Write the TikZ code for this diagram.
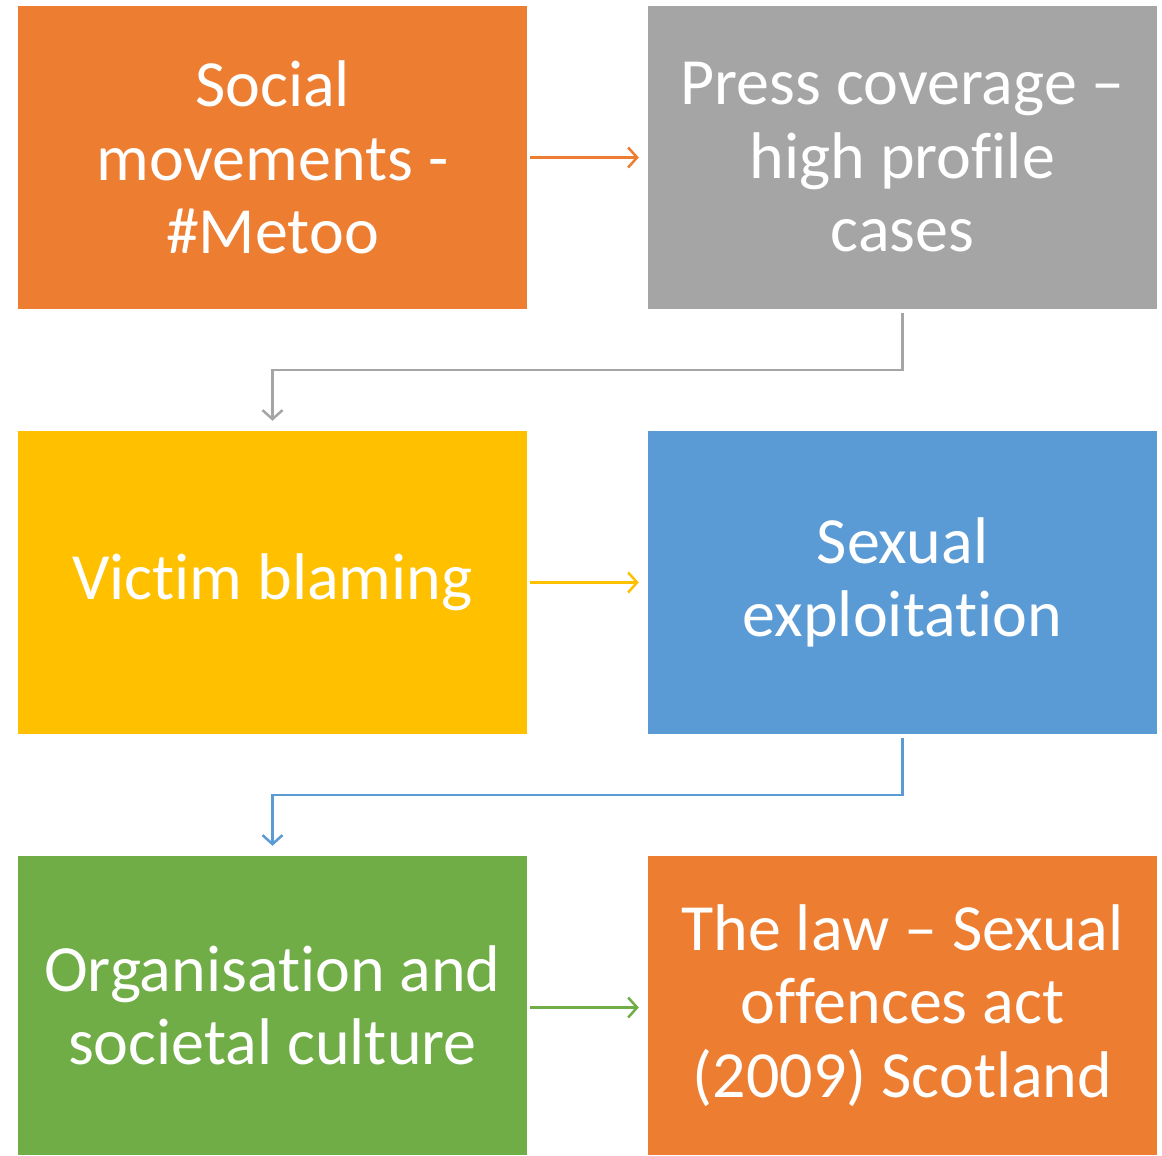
\documentclass[tikz,border=0pt]{standalone}
\usepackage{fontspec}
\setmainfont{Carlito}[Ligatures={NoCommon}]
\usetikzlibrary{arrows.meta}
\definecolor{cOrange}{HTML}{ED7D31}
\definecolor{cGray}{HTML}{A5A5A5}
\definecolor{cYellow}{HTML}{FFC000}
\definecolor{cBlue}{HTML}{5B9BD5}
\definecolor{cGreen}{HTML}{70AD47}
\begin{document}
\begin{tikzpicture}[x=1pt,y=-1pt,
  box/.style={minimum width=509pt,minimum height=303pt,inner sep=0pt,text=white,align=center,
    font=\fontsize{66}{73.5}\selectfont},
  arr/.style={line width=2.5pt,-{Straight Barb[length=9pt,width=20pt,line width=2.5pt]}}]
\useasboundingbox (0,0) rectangle (1162,1156);
\node[box,fill=cOrange] (b1) at (272.5,157.5) {Social\\movements -\\\#Metoo};
\node[box,fill=cGray] (b2) at (902.5,157.5) {Press coverage –\\high profile\\cases};
\node[box,fill=cYellow] (b3) at (272.5,582.5) {Victim blaming};
\node[box,fill=cBlue] (b4) at (902.5,582.5) {Sexual\\exploitation};
\node[box,fill=cGreen,minimum height=299pt] (b5) at (272.5,1005.5) {Organisation and\\societal culture};
\node[box,fill=cOrange,minimum height=299pt] (b6) at (902.5,1005.5) {The law – Sexual\\offences act\\(2009) Scotland};
\draw[arr,cOrange] ([xshift=3pt]b1.east) -- ([xshift=-9pt]b2.west);
\draw[arr,cYellow] ([xshift=3pt]b3.east) -- ([xshift=-9pt]b4.west);
\draw[arr,cGreen] ([xshift=3pt,yshift=-2pt]b5.east) -- ([xshift=-9pt,yshift=-2pt]b6.west);
\draw[arr,cGray] ([yshift=-4pt]b2.south) -- (b2.south |- 0,370) -| ([yshift=10pt]b3.north);
\draw[arr,cBlue] ([yshift=-4pt]b4.south) -- (b4.south |- 0,795) -| ([yshift=10pt]b5.north);
\end{tikzpicture}
\end{document}
